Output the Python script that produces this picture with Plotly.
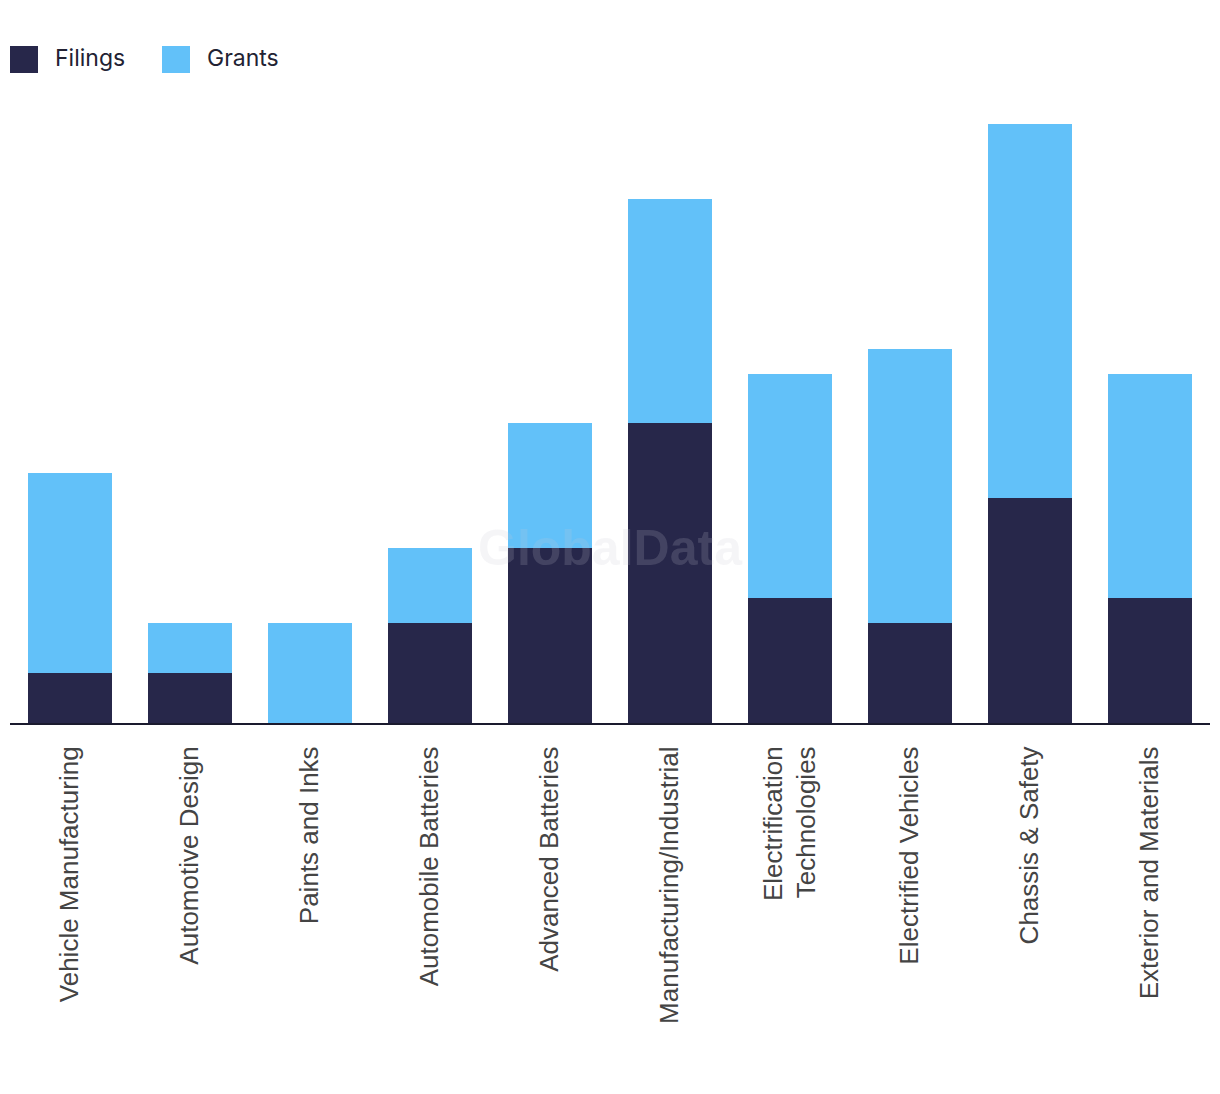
import plotly.graph_objects as go

categories = [
    "Vehicle Manufacturing", "Automotive Design", "Paints and Inks",
    "Automobile Batteries", "Advanced Batteries", "Manufacturing/Industrial",
    "Electrification<br>Technologies", "Electrified Vehicles",
    "Chassis & Safety", "Exterior and Materials",
]
filings = [2, 2, 0, 4, 7, 12, 5, 4, 9, 5]
grants = [8, 2, 4, 3, 5, 9, 9, 11, 15, 9]

NAVY = "#27274A"
BLUE = "#62C1F9"

fig = go.Figure()
fig.add_trace(go.Bar(name="Filings", x=categories, y=filings, marker=dict(color=NAVY, line=dict(width=0)), width=0.7))
fig.add_trace(go.Bar(name="Grants", x=categories, y=grants, marker=dict(color=BLUE, line=dict(width=0)), width=0.7))

W, H = 1220, 1094
ml, mr, mt, mb = 10, 10, 99, 371
pw, ph = W - ml - mr, H - mt - mb

def px_x(x):
    return (x - ml) / pw

def px_y(y):
    return (H - mb - y) / ph

shapes = []
annotations = []
for (x0, label, color) in [(10, "Filings", NAVY), (162, "Grants", BLUE)]:
    shapes.append(dict(type="rect", xref="paper", yref="paper",
                       x0=px_x(x0), x1=px_x(x0 + 28), y0=px_y(73), y1=px_y(46),
                       fillcolor=color, line=dict(width=0)))
    annotations.append(dict(text=label, xref="paper", yref="paper",
                            x=px_x(x0 + 43), y=px_y(58), xanchor="left", yanchor="middle",
                            showarrow=False, font=dict(family="Inter", size=23, color="#222233")))

annotations.append(dict(text="<b>GlobalData</b>", xref="paper", yref="paper",
                        x=px_x(610), y=px_y(548), xanchor="center", yanchor="middle",
                        showarrow=False,
                        font=dict(family="Liberation Sans", size=50, color="rgba(200,200,210,0.18)")))

fig.update_layout(
    width=W, height=H,
    margin=dict(l=ml, r=mr, t=mt, b=mb),
    barmode="stack",
    showlegend=False,
    plot_bgcolor="white", paper_bgcolor="white",
    shapes=shapes, annotations=annotations,
    font=dict(family="Liberation Sans"),
)
fig.update_xaxes(showline=True, linecolor="#1a1a2e", linewidth=2, showgrid=False,
                 tickangle=-90, tickfont=dict(family="Liberation Sans", size=26, color="#444444"),
                 ticks="outside", ticklen=11, tickcolor="rgba(0,0,0,0)")
fig.update_yaxes(visible=False, range=[0, 25], showgrid=False)

fig.write_html("out.html")
